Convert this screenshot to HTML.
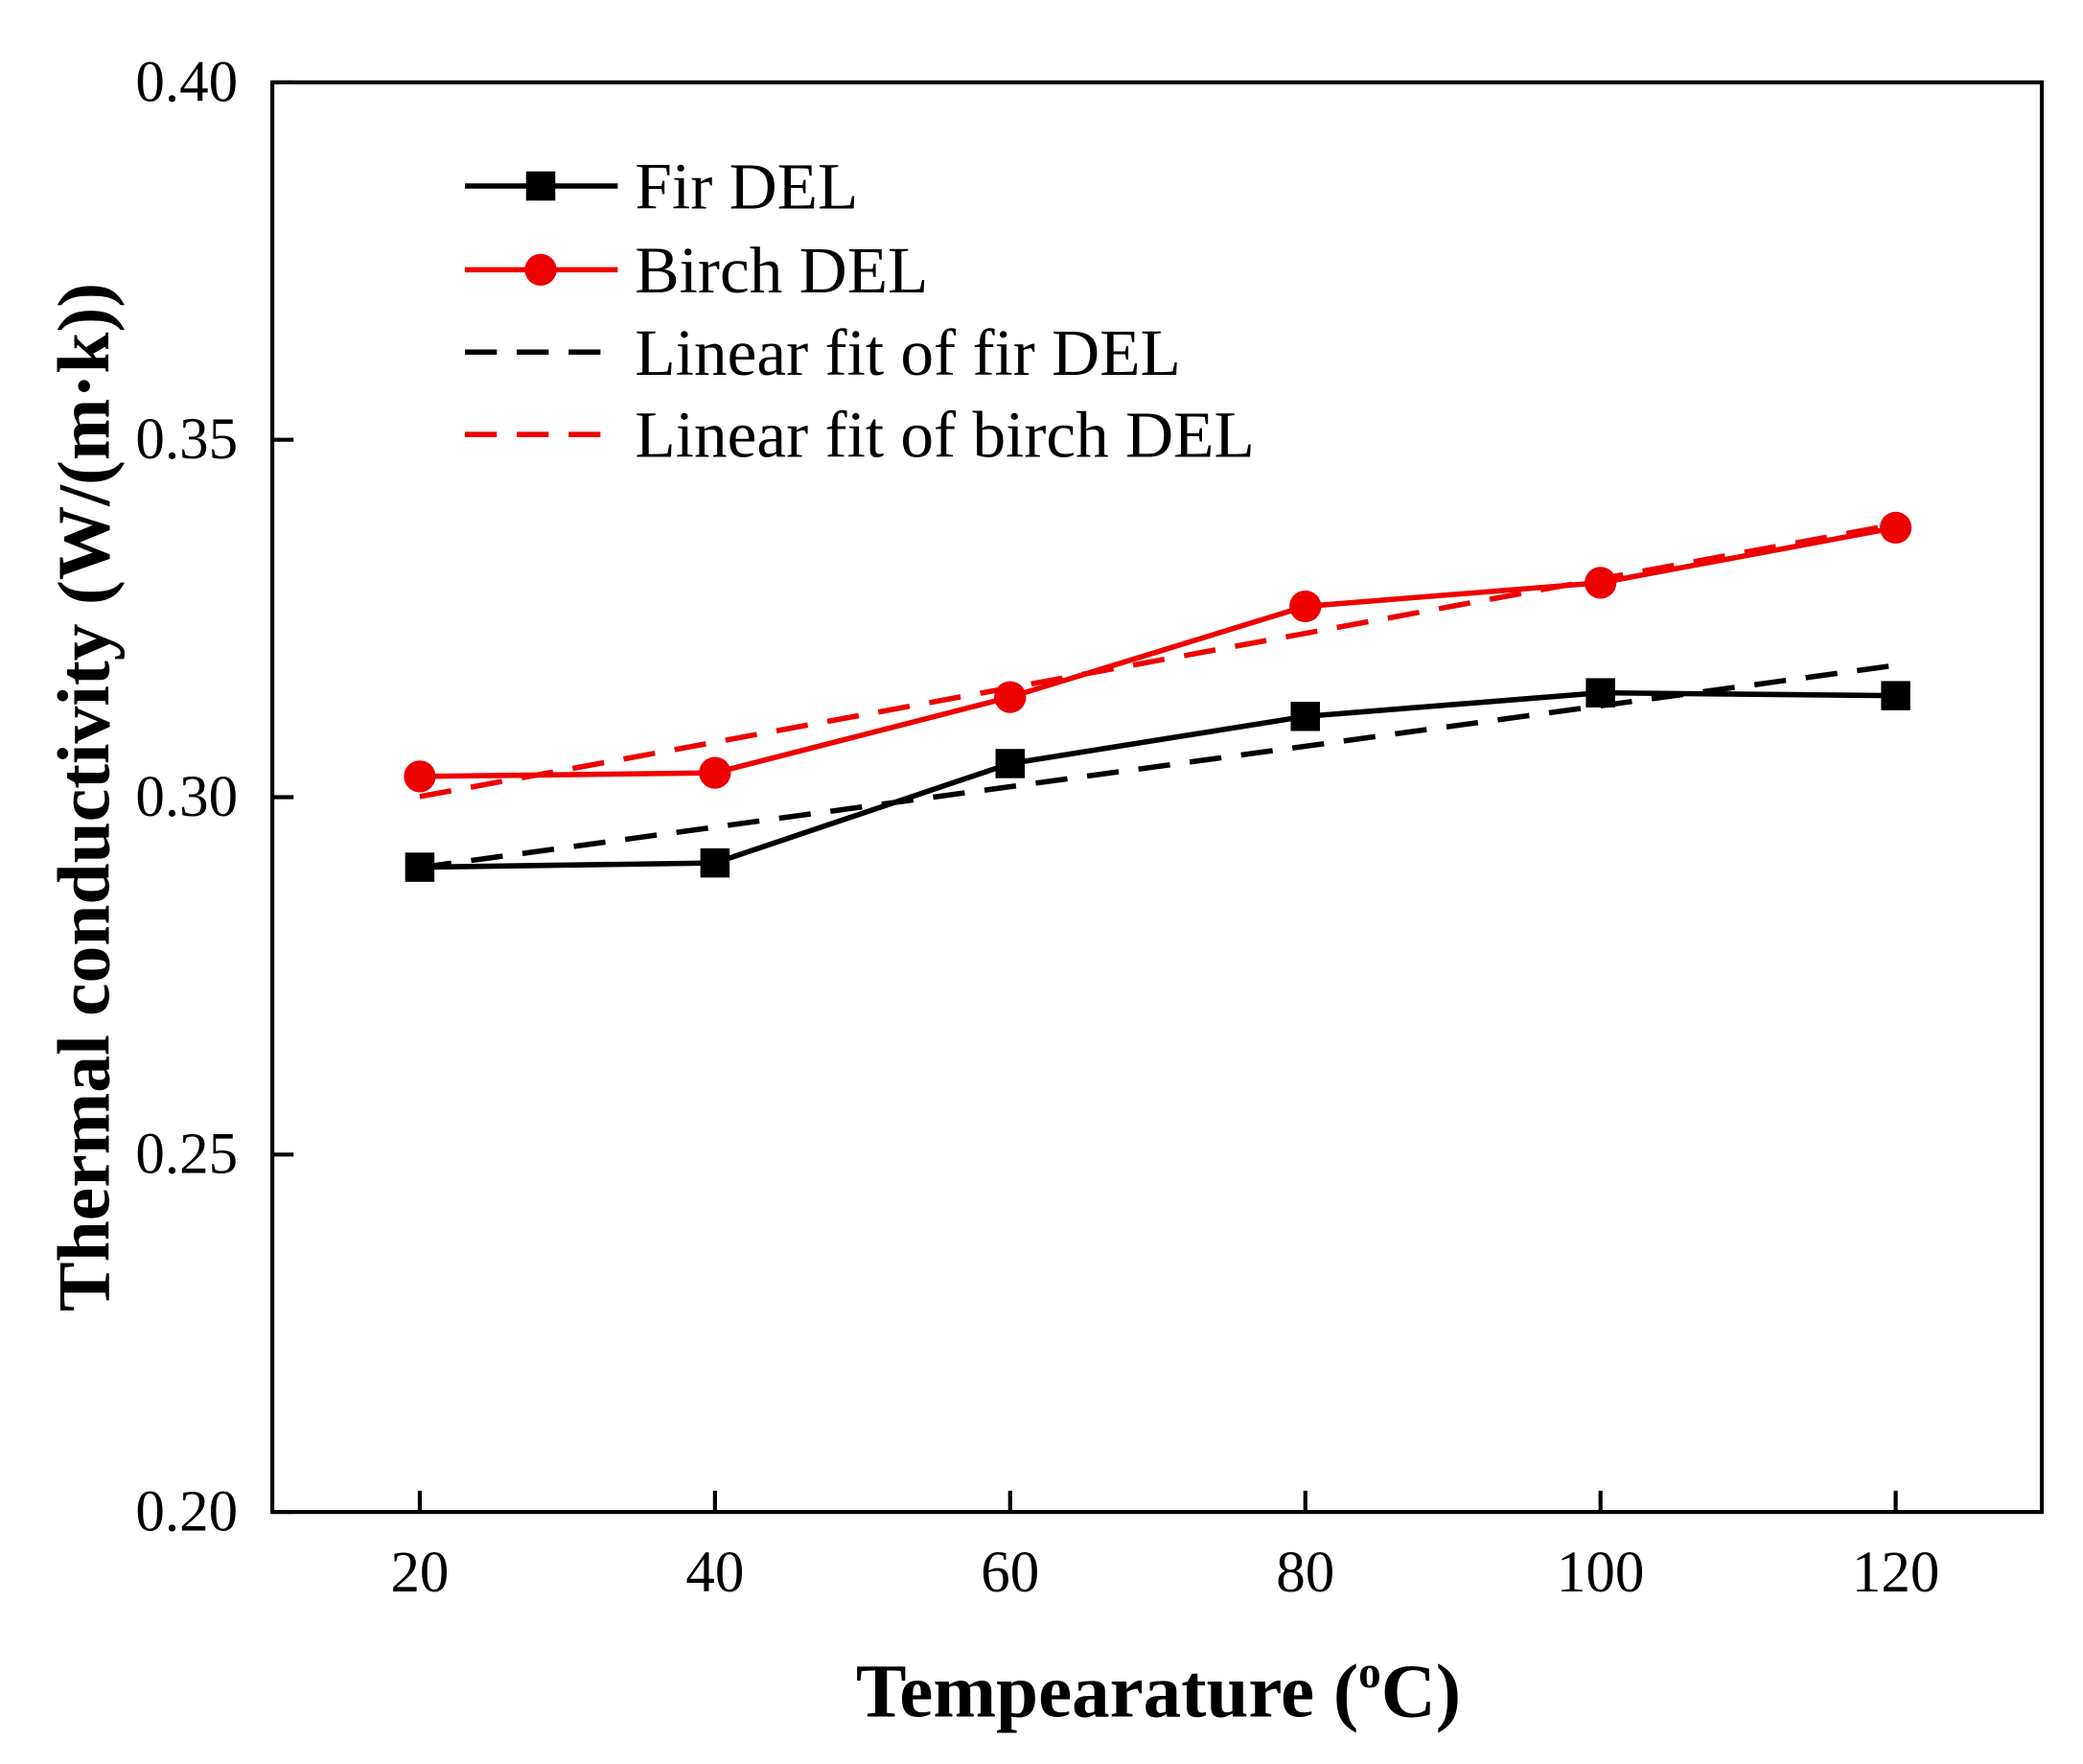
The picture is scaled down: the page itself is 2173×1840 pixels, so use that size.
<!DOCTYPE html>
<html><head><meta charset="utf-8"><style>
html,body{margin:0;padding:0;background:#fff}
svg{display:block}
text{font-family:"Liberation Serif",serif}
</style></head><body>
<svg id="chart" width="2173" height="1840" viewBox="0 0 1568 1327.7" xmlns="http://www.w3.org/2000/svg">
<rect x="0" y="0" width="1568" height="1328" fill="#fff"/>
<rect x="205" y="62" width="1332" height="1076" fill="none" stroke="#000" stroke-width="3"/>
<g id="axes"></g>
<g id="series"></g>
<text transform="translate(82,600) rotate(-90)" text-anchor="middle" font-size="56" font-weight="bold">Thermal conductivity (W/(m·k))</text>
<text x="872" y="1292" text-anchor="middle" font-size="57" font-weight="bold">Tempearature (<tspan font-size="34" dy="-22">o</tspan><tspan dy="22">C)</tspan></text>
<g font-size="50">
 <g><line x1="350" y1="140" x2="465" y2="140" stroke="#000" stroke-width="4"/><rect x="396" y="129" width="22" height="22" fill="#000"/><text x="478" y="157">Fir DEL</text></g>
 <g><line x1="350" y1="203" x2="465" y2="203" stroke="#e00" stroke-width="4"/><circle cx="407" cy="203" r="12" fill="#e00"/><text x="478" y="220">Birch DEL</text></g>
 <g><line x1="350" y1="265" x2="465" y2="265" stroke="#000" stroke-width="4" stroke-dasharray="24,15"/><text x="478" y="282">Linear fit of fir DEL</text></g>
 <g><line x1="350" y1="327" x2="465" y2="327" stroke="#e00" stroke-width="4" stroke-dasharray="24,15"/><text x="478" y="344">Linear fit of birch DEL</text></g>
</g>
</svg>
<script>
const temps = [20, 40, 60, 80, 100, 120];
const firValues = [0.2902, 0.2908, 0.3047, 0.3113, 0.3146, 0.3142];
const birchValues = [0.3029, 0.3034, 0.3140, 0.3267, 0.3300, 0.3377];
const xTicks = [20, 40, 60, 80, 100, 120];
const yTicks = [0.20, 0.25, 0.30, 0.35, 0.40];

const NS = "http://www.w3.org/2000/svg";
const X0 = 316, X1 = 1427, Y0 = 1138, Y1 = 62;
function xs(v){ return X0 + (v - 20) / 100 * (X1 - X0); }
function ys(v){ return Y0 - (v - 0.20) / 0.20 * (Y0 - Y1); }
function mk(tag, attrs, parent){ const e = document.createElementNS(NS, tag); for (const k in attrs) e.setAttribute(k, attrs[k]); parent.appendChild(e); return e; }

const axes = document.getElementById('axes');
xTicks.forEach(t => {
  const l = mk('line', {x1: xs(t), x2: xs(t), y1: Y0, y2: Y0 - 16, stroke: '#000', 'stroke-width': 3}, axes);
  
  
  const tx = mk('text', {x: xs(t), y: Y0 + 60, 'text-anchor': 'middle', 'font-size': 44}, axes);
  tx.textContent = t;
  
  
});
yTicks.forEach(t => {
  const l = mk('line', {x1: 205, x2: 205 + 16, y1: ys(t), y2: ys(t), stroke: '#000', 'stroke-width': 3}, axes);
  
  
  const tx = mk('text', {x: 179, y: ys(t) + 14, 'text-anchor': 'end', 'font-size': 44}, axes);
  tx.textContent = t.toFixed(2);
  
  
});

function fit(xv, yv){
  const n = xv.length, mx = xv.reduce((a,b)=>a+b)/n, my = yv.reduce((a,b)=>a+b)/n;
  let sxy = 0, sxx = 0;
  for (let i = 0; i < n; i++){ sxy += (xv[i]-mx)*(yv[i]-my); sxx += (xv[i]-mx)**2; }
  const b = sxy / sxx; return x => my + b * (x - mx);
}
const series = document.getElementById('series');
function drawFit(vals, color, name){
  const f = fit(temps, vals);
  const a = temps[0], b = temps[temps.length-1];
  const l = mk('line', {x1: xs(a), y1: ys(f(a)), x2: xs(b), y2: ys(f(b)), stroke: color, 'stroke-width': 4, 'stroke-dasharray': '24,15'}, series);
  
  
}
function drawLine(vals, color, name, marker){
  const p = mk('polyline', {points: temps.map((t,i)=>xs(t)+','+ys(vals[i])).join(' '), fill: 'none', stroke: color, 'stroke-width': 4}, series);
  
  
  temps.forEach((t,i) => {
    let m;
    if (marker === 'square') m = mk('rect', {x: xs(t)-11, y: ys(vals[i])-11, width: 22, height: 22, fill: color}, series);
    else m = mk('circle', {cx: xs(t), cy: ys(vals[i]), r: 12, fill: color}, series);
    
    
  });
}
drawFit(firValues, '#000', 'fir-linear-fit');
drawFit(birchValues, '#e00', 'birch-linear-fit');
drawLine(firValues, '#000', 'fir-del', 'square');
drawLine(birchValues, '#e00', 'birch-del', 'circle');
</script>
</body></html>
